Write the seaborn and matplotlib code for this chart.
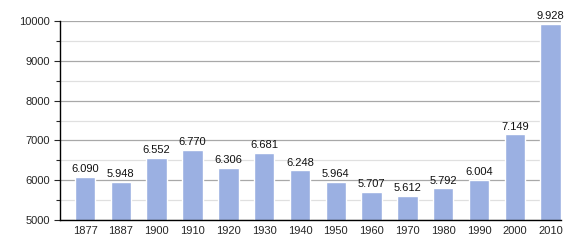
import matplotlib
matplotlib.use("Agg")
import matplotlib.pyplot as plt
import seaborn as sns
import pandas as pd
from matplotlib.ticker import MultipleLocator

years = ["1877", "1887", "1900", "1910", "1920", "1930", "1940", "1950",
         "1960", "1970", "1980", "1990", "2000", "2010"]
population = [6090, 5948, 6552, 6770, 6306, 6681, 6248, 5964,
              5707, 5612, 5792, 6004, 7149, 9928]
value_labels = ["6.090", "5.948", "6.552", "6.770", "6.306", "6.681", "6.248",
                "5.964", "5.707", "5.612", "5.792", "6.004", "7.149", "9.928"]

sns.set_style("white")
plt.rcParams['font.family'] = ['Liberation Sans', 'DejaVu Sans']

df = pd.DataFrame({"year": years, "pop": population})

fig = plt.figure(figsize=(5.8, 2.5), dpi=100)
ax = fig.add_axes([60/580, 1-220/250, (561-60)/580, (220-21)/250])

sns.barplot(data=df, x="year", y="pop", color="#9bb0e2", width=0.57,
            saturation=1, ax=ax, zorder=3)

ax.set_ylim(5000, 10000)
ax.set_xlim(-0.70, 13.29)
ax.yaxis.set_major_locator(MultipleLocator(1000))
ax.yaxis.set_minor_locator(MultipleLocator(500))
ax.grid(which="major", axis="y", color="#a8a8a8", linewidth=0.9, zorder=0)
ax.grid(which="minor", axis="y", color="#e0e0e0", linewidth=0.9, zorder=0)
ax.set_axisbelow(True)

for s in ["top", "right"]:
    ax.spines[s].set_visible(False)
for s in ["left", "bottom"]:
    ax.spines[s].set_color("black")
    ax.spines[s].set_linewidth(1.0)
    ax.spines[s].set_zorder(4)

ax.tick_params(axis="y", which="major", direction="out", length=4, width=0.8,
               labelsize=8, pad=3, left=True)
ax.tick_params(axis="y", which="minor", direction="out", length=3, width=0.8, left=True)
ax.tick_params(axis="x", length=0, labelsize=8, pad=4)
ax.set_xlabel("")
ax.set_ylabel("")

for i, (v, lab) in enumerate(zip(population, value_labels)):
    ax.text(i, v + 70, lab, ha="center", va="bottom", fontsize=8,
            color="#111111", clip_on=False)

fig.savefig("out.png", dpi=100)
